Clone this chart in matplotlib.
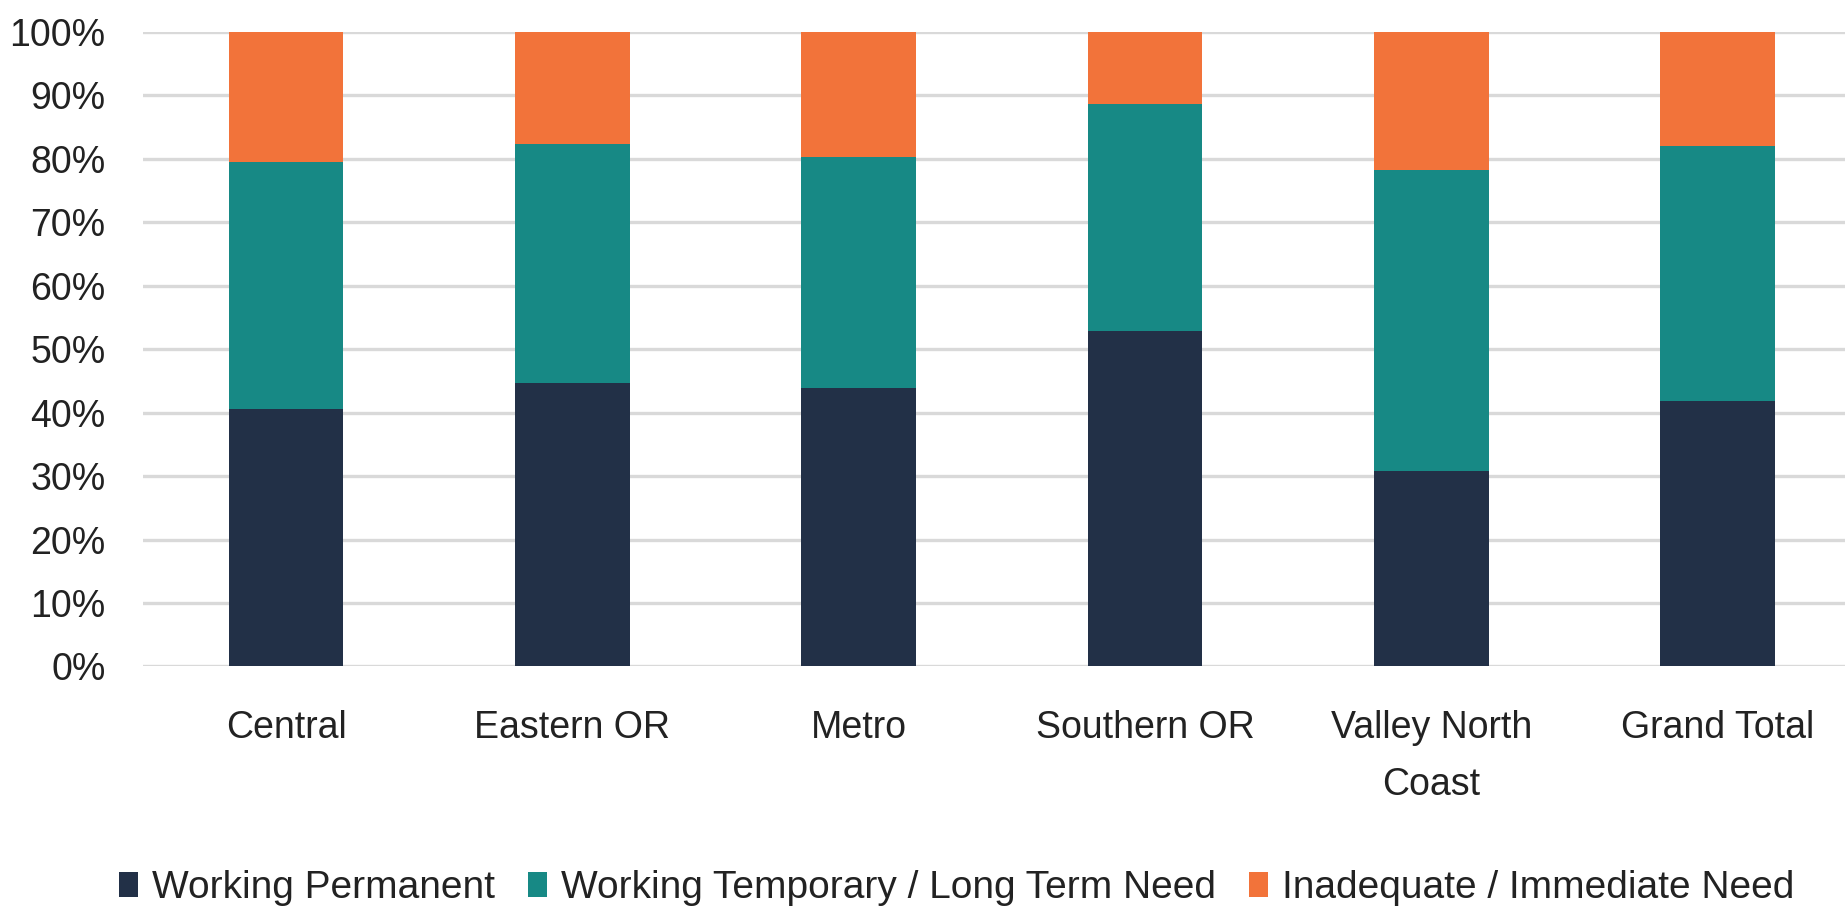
import numpy as np
import matplotlib.pyplot as plt
from matplotlib.ticker import PercentFormatter

# values (percent of each region)
regions = ['Central', 'Eastern OR', 'Metro', 'Southern OR', 'Valley North\nCoast', 'Grand Total']
working_permanent = [40.6, 44.6, 43.8, 52.8, 30.8, 41.8]
working_temporary = [38.9, 37.7, 36.5, 35.8, 47.5, 40.2]
inadequate = [20.5, 17.7, 19.7, 11.4, 21.7, 18.0]

series_names = ['Working Permanent', 'Working Temporary / Long Term Need', 'Inadequate / Immediate Need']
colors = ['#223047', '#178985', '#F2733A']

plt.rcParams['font.family'] = ['Liberation Sans', 'DejaVu Sans']

fig = plt.figure(figsize=(18.45, 9.08), dpi=100)
ax = fig.add_axes([0.0775, 0.266, 0.931, 0.699])

x = np.arange(len(regions))
bottom = np.zeros(len(regions))
for vals, name, c in zip([working_permanent, working_temporary, inadequate], series_names, colors):
    ax.bar(x, vals, width=0.4, bottom=bottom, color=c, label=name, zorder=3)
    bottom += np.array(vals)

ax.set_xlim(-0.5, len(regions) - 0.5)
ax.set_ylim(0, 100)
ax.set_yticks(np.arange(0, 101, 10))
ax.yaxis.set_major_formatter(PercentFormatter(decimals=0))
ax.set_xticks(x)
ax.set_xticklabels(regions, linespacing=1.78)
ax.tick_params(axis='both', length=0, labelsize=27, colors='#222222')
ax.tick_params(axis='y', pad=27)
ax.tick_params(axis='x', pad=31)
ax.grid(axis='y', color='#D9D9D9', linewidth=2.4, zorder=0)
ax.set_axisbelow(True)
for s in ax.spines.values():
    s.set_visible(False)

fig.legend(loc='center', bbox_to_anchor=(0.5185, 0.022), ncol=3, frameon=False,
           fontsize=28, handlelength=0.5, handleheight=0.62, handletextpad=0.35,
           columnspacing=0.85, labelcolor='#222222')

fig.savefig('out.png', dpi=100)
